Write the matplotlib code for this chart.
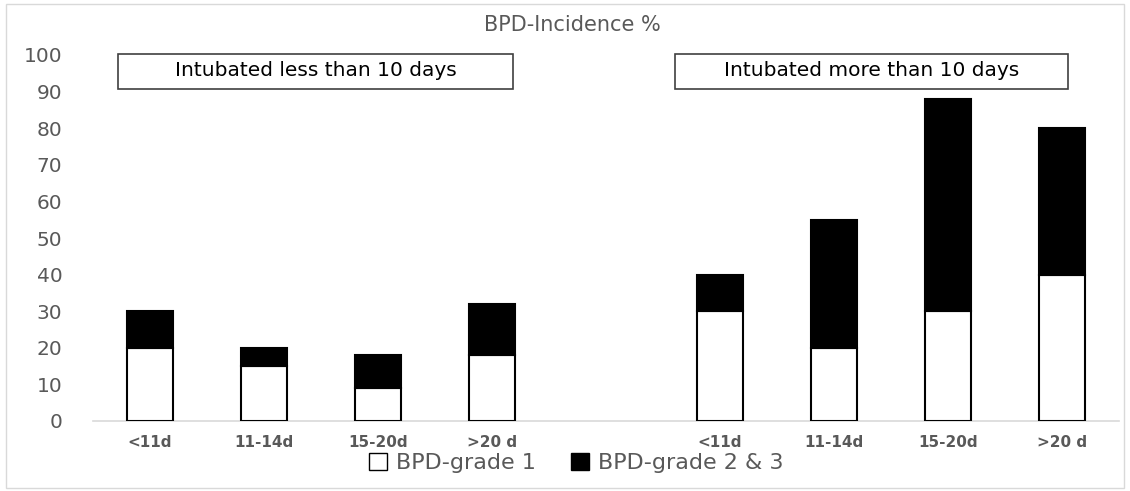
import matplotlib
matplotlib.use("Agg")
import matplotlib.pyplot as plt
from matplotlib.patches import Patch, Rectangle

# categories, with one empty slot between the two groups
categories = ["<11d", "11-14d", "15-20d", ">20 d", "", "<11d", "11-14d", "15-20d", ">20 d"]
grade1 = [20, 15, 9, 18, None, 30, 20, 30, 40]
grade23 = [10, 5, 9, 14, None, 10, 35, 58, 40]
group_labels = ["Intubated less than 10 days", "Intubated more than 10 days"]
series_labels = ["BPD-grade 1", "BPD-grade 2 & 3"]

W, H = 1130, 491
GRAY = "#595959"

plt.rcParams["font.family"] = ["DejaVu Sans"]

fig = plt.figure(figsize=(W / 100, H / 100), dpi=100)
ax = fig.add_axes([93 / W, 1 - 421 / H, (1119 - 93) / W, (421 - 55) / H])

xs = [i for i, v in enumerate(grade1) if v is not None]
g1 = [grade1[i] for i in xs]
g23 = [grade23[i] for i in xs]

ax.bar(xs, g1, width=0.4, color="white", edgecolor="black", linewidth=1.5, zorder=3)
ax.bar(xs, g23, width=0.4, bottom=g1, color="black", edgecolor="black", linewidth=1.5, zorder=3)

ax.set_xlim(-0.5, len(categories) - 0.5)
ax.set_ylim(0, 100)
ax.set_yticks(range(0, 101, 10))
ax.set_xticks(range(len(categories)))
ax.set_xticklabels(categories)
ax.tick_params(axis="y", length=0, labelsize=14.5, labelcolor=GRAY, pad=22)
ax.tick_params(axis="x", length=0, labelsize=11, labelcolor=GRAY, pad=10)
for lab in ax.get_xticklabels():
    lab.set_fontweight("semibold")
for s in ["top", "right", "left"]:
    ax.spines[s].set_visible(False)
ax.spines["bottom"].set_color("#d9d9d9")
ax.spines["bottom"].set_linewidth(1.2)

# title
fig.text(572 / W, 1 - 25 / H, "BPD-Incidence %", ha="center", va="center", fontsize=15, color=GRAY)

# group boxes
boxes = [(118, 513), (675, 1068)]
for (x0, x1), label in zip(boxes, group_labels):
    fig.patches.append(Rectangle((x0 / W, 1 - 89 / H), (x1 - x0) / W, 35 / H,
                                 transform=fig.transFigure, facecolor="white",
                                 edgecolor="#404040", linewidth=1.2))
    fig.text((x0 + x1) / 2 / W, 1 - 71 / H, label, ha="center", va="center",
             fontsize=14.5, color="black")

# legend
handles = [Patch(facecolor="white", edgecolor="black", label=series_labels[0]),
           Patch(facecolor="black", edgecolor="black", label=series_labels[1])]
leg = fig.legend(handles=handles, loc="center", bbox_to_anchor=(576 / W, 1 - 463 / H),
                 ncol=2, frameon=False, fontsize=16, handlelength=0.8, handleheight=0.8,
                 handletextpad=0.4, columnspacing=1.6)
for t in leg.get_texts():
    t.set_color(GRAY)

# chart area border
fig.patches.append(Rectangle((6 / W, 3 / H), (1124 - 6) / W, (487 - 3) / H,
                             transform=fig.transFigure, fill=False,
                             edgecolor="#d9d9d9", linewidth=1.0))

fig.savefig("out.png", dpi=100)
